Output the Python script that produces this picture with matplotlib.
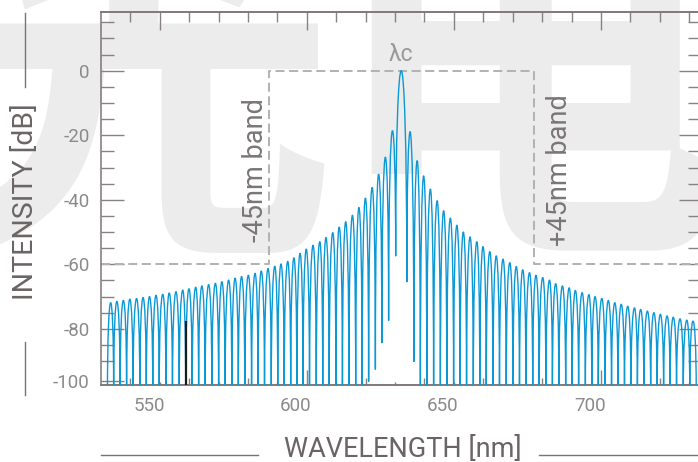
import matplotlib
matplotlib.use("Agg")
import matplotlib.pyplot as plt
from matplotlib.path import Path
from matplotlib.patches import PathPatch
from matplotlib.lines import Line2D
from matplotlib.ticker import FixedLocator, NullFormatter
import matplotlib.transforms as mtrans

plt.rcParams['font.family'] = ['Roboto', 'DejaVu Sans']
plt.rcParams['font.weight'] = 'normal'
plt.rcParams['lines.scale_dashes'] = False

# ---------------- data ----------------
# wavelengths (nm) of the lobe nulls, left to right
null_nm = [535.9, 538.0, 540.2, 542.4, 544.6, 546.9, 549.1, 551.3, 553.5, 555.8,
           558.0, 560.3, 562.5, 564.7, 566.9, 569.1, 571.4, 573.7, 575.9, 578.2,
           580.4, 582.6, 584.9, 587.1, 589.3, 591.6, 593.8, 596.0, 598.2, 600.3,
           602.4, 604.6, 606.9, 609.1, 611.3, 613.6, 615.8, 618.0, 620.3, 622.5,
           624.7, 627.0, 629.2, 631.5, 633.9, 637.7, 640.1, 642.3, 644.5, 646.8,
           649.1, 651.3, 653.6, 655.8, 658.0, 660.3, 662.5, 664.7, 667.0, 669.2,
           671.5, 673.8, 676.0, 678.2, 680.5, 682.7, 685.0, 687.2, 689.4, 691.7,
           693.9, 696.1, 698.4, 700.6, 702.8, 705.1, 707.3, 709.5, 711.7, 713.9,
           716.1, 718.3, 720.6, 722.8, 725.0, 727.2, 729.4, 731.7, 733.9, 736.1]
# depth of each null (dB); most fall below the plotted range
null_db = [-100] * 40 + [-96.3, -92.5, -84.3, -77.4, -57.4, -65.4, -90.1] + [-100] * 43
# lobe peaks
peak_nm = [537.0, 539.1, 541.3, 543.5, 545.8, 548.0, 550.2, 552.4, 554.7, 556.9,
           559.2, 561.5, 563.6, 565.9, 568.0, 570.3, 572.6, 574.8, 577.1, 579.3,
           581.5, 583.8, 586.1, 588.2, 590.5, 592.8, 594.9, 597.2, 599.3, 601.4,
           603.5, 605.8, 608.1, 610.2, 612.5, 614.7, 616.9, 619.2, 621.4, 623.6,
           625.9, 628.1, 630.4, 632.8, 635.8, 638.8, 641.2, 643.4, 645.7, 648.0,
           650.2, 652.5, 654.7, 656.9, 659.2, 661.5, 663.6, 665.9, 668.1, 670.4,
           672.7, 674.9, 677.1, 679.4, 681.6, 683.9, 686.2, 688.3, 690.6, 692.9,
           695.0, 697.3, 699.6, 701.7, 704.0, 706.2, 708.4, 710.6, 712.8, 715.1,
           717.2, 719.5, 721.7, 723.9, 726.2, 728.3, 730.6, 732.9, 735.0]
peak_db = [-71.9, -71.5, -71.2, -70.8, -70.6, -70.3, -70.0, -69.6, -69.3, -68.9,
           -68.5, -68.0, -67.6, -67.1, -66.7, -66.3, -65.9, -65.4, -64.9, -64.3,
           -63.8, -63.4, -62.8, -62.1, -61.3, -60.6, -59.9, -59.1, -58.0, -56.6,
           -55.3, -54.1, -53.0, -51.7, -50.2, -48.5, -46.8, -44.8, -42.4, -39.5,
           -36.2, -32.1, -26.8, -18.6, 0.0, -18.9, -27.9, -32.6, -36.7, -40.3,
           -43.4, -45.7, -47.9, -50.0, -51.5, -53.0, -54.5, -56.1, -57.4, -58.4,
           -59.5, -60.7, -61.7, -62.6, -63.4, -64.1, -64.9, -66.0, -66.7, -67.3,
           -68.1, -68.8, -69.4, -70.0, -70.6, -71.2, -71.9, -72.4, -73.0, -73.5,
           -74.0, -74.5, -75.0, -75.5, -76.0, -76.4, -76.9, -77.3, -77.6]

# band mask (dashed)
mask_nm = [533.7, 590.8, 590.8, 680.8, 680.8, 736.7]
mask_db = [-60, -60, 0, 0, -60, -60]

# black marker line
marker_nm = 562.5
marker_top_db = -77.7

# axes
x_limits = (533.7, 736.7)
y_limits = (-97.4, 18.1)
x_label_pos = [550, 600, 650, 700]
x_label_txt = ['550', '600', '650', '700']
x_top_major = [553.7, 603.7, 653.7, 703.7]
x_top_minor = [543.7, 563.7, 573.7, 583.7, 593.7, 613.7, 623.7, 633.7, 643.7,
               663.7, 673.7, 683.7, 693.7, 713.7, 723.7, 733.7]
x_bot_major = [603.7, 703.7]
x_bot_mid = [543.7, 563.7, 583.7, 623.7, 643.7, 663.7, 683.7, 723.7]
x_bot_small = [553.7, 573.7, 593.7, 613.7, 633.7, 653.7, 673.7, 693.7, 713.7, 733.7]
y_major = [0, -20, -40, -60, -80, -96.3]
y_major_txt = ['0', '-20', '-40', '-60', '-80', '-100']
y_minor = [15, 10, 5, -5, -10, -15, -25, -30, -35, -45, -50, -55, -65, -70, -75,
           -85, -90]
watermark_chars = ['光', '电']

# ---------------- styling ----------------
W, H = 698, 462
fig = plt.figure(figsize=(W / 100, H / 100), dpi=100)
fig.patch.set_facecolor('white')

spine_c = '#7d7575'
tick_c = '#888282'
lab_c = '#8a8a8a'
axlab_c = '#6b6464'
line_c = '#0b98d5'

# faint watermark behind the chart
for ch, xc in zip(watermark_chars, (135, 528)):
    fig.text(xc / W, 1 - 305 / H, ch, fontsize=290, color='#ececec',
             family=['Noto Sans CJK SC'], weight='bold', ha='center',
             va='bottom', zorder=-10)

ax = fig.add_axes([101 / W, 77 / H, 597 / W, 372.7 / H])
ax.patch.set_visible(False)
ax.set_xlim(*x_limits)
ax.set_ylim(*y_limits)

for s in ('left', 'bottom', 'top'):
    ax.spines[s].set_color(spine_c)
    ax.spines[s].set_linewidth(1.1)
ax.spines['right'].set_visible(False)

# spectrum as a chain of lobes (null -> peak -> null)
verts = [(null_nm[0], null_db[0])]
codes = [Path.MOVETO]
for i in range(len(peak_nm)):
    xl, yl = null_nm[i], null_db[i]
    xp, p = peak_nm[i], peak_db[i]
    xr, yr = null_nm[i + 1], null_db[i + 1]
    verts += [(xl, (yl + 2 * p) / 3), ((xl + xp) / 2, p), (xp, p),
              ((xp + xr) / 2, p), (xr, (yr + 2 * p) / 3), (xr, yr)]
    codes += [Path.CURVE4] * 6
spec = PathPatch(Path(verts, codes), fill=False, edgecolor=line_c, lw=1.0,
                 transform=ax.transData, zorder=3, joinstyle='round')
ax.add_patch(spec)

# dashed mask
ax.plot(mask_nm, mask_db, color='#b3b3b3', lw=1.45, ls=(0, (6.5, 3.3)),
        zorder=2, clip_on=True)

# black marker
ax.vlines(marker_nm, y_limits[0] - 3, marker_top_db, color='#1a1a1a', lw=1.6,
          zorder=4)

# y ticks left
ax.yaxis.set_major_locator(FixedLocator(y_major))
ax.set_yticklabels(y_major_txt)
ax.yaxis.set_minor_locator(FixedLocator(y_minor))
ax.tick_params(axis='y', which='major', direction='in', length=16.5, width=1.0,
               color=tick_c, labelsize=13.5, labelcolor=lab_c, pad=8.2,
               left=True, right=False)
ax.tick_params(axis='y', which='minor', direction='in', length=9.5, width=1.0,
               color=tick_c, left=True, right=False)

# x ticks bottom
ax.xaxis.set_major_locator(FixedLocator(x_bot_major))
ax.xaxis.set_minor_locator(FixedLocator(x_bot_mid))
ax.xaxis.set_major_formatter(NullFormatter())
ax.tick_params(axis='x', which='major', direction='in', length=11, width=1.0,
               color=tick_c, bottom=True, top=False)
ax.tick_params(axis='x', which='minor', direction='in', length=5, width=1.0,
               color=tick_c, bottom=True, top=False)

secb = ax.secondary_xaxis('bottom')
secb.xaxis.set_major_locator(FixedLocator(x_bot_small))
secb.xaxis.set_major_formatter(NullFormatter())
secb.tick_params(axis='x', which='major', direction='in', length=2.3, width=1.0,
                 color=tick_c)
secb.spines['bottom'].set_color(spine_c)
secb.spines['bottom'].set_linewidth(1.1)

sect = ax.secondary_xaxis('top')
sect.xaxis.set_major_locator(FixedLocator(x_top_major))
sect.xaxis.set_minor_locator(FixedLocator(x_top_minor))
sect.xaxis.set_major_formatter(NullFormatter())
sect.tick_params(axis='x', which='major', direction='in', length=13, width=1.0,
                 color=tick_c)
sect.tick_params(axis='x', which='minor', direction='in', length=7.2, width=1.0,
                 color=tick_c)
sect.spines['top'].set_color(spine_c)
sect.spines['top'].set_linewidth(1.1)

secr = ax.secondary_yaxis('right')
secr.yaxis.set_major_locator(FixedLocator(y_major[:-1]))
secr.yaxis.set_minor_locator(FixedLocator(y_minor))
secr.yaxis.set_major_formatter(NullFormatter())
secr.tick_params(axis='y', which='major', direction='in', length=14, width=1.0,
                 color=tick_c)
secr.tick_params(axis='y', which='minor', direction='in', length=7.2, width=1.0,
                 color=tick_c)
secr.spines['right'].set_visible(False)

# x tick labels
xtr = mtrans.blended_transform_factory(ax.transData, ax.transAxes)
for xv, t in zip(x_label_pos, x_label_txt):
    ax.text(xv, -0.033, t, transform=xtr, ha='center', va='top', fontsize=13.5,
            color=lab_c)

# annotations
ax.text(588.9, -30.7, '-45nm band', rotation=90, rotation_mode='anchor',
        ha='center', va='baseline', fontsize=19.5, color='#7b7676')
ax.text(692.1, -30.7, '+45nm band', rotation=90, rotation_mode='anchor',
        ha='center', va='baseline', fontsize=19.5, color='#7b7676')
ax.text(635.8, 2.9, 'λc', ha='center', va='baseline', fontsize=16.5,
        color='#999999')

# axis titles with decorative rules
fig.text(403 / W, 1 - 457 / H, 'WAVELENGTH [nm]', ha='center', va='baseline',
         fontsize=19.5, color=axlab_c)
fig.text(33.3 / W, 1 - 202 / H, 'INTENSITY [dB]', rotation=90,
         rotation_mode='anchor', ha='center', va='baseline', fontsize=20.5,
         color=axlab_c)
rule_c = '#7a7474'
fig.add_artist(Line2D([101 / W, 258 / W], [1 - 455 / H] * 2, color=rule_c, lw=1.0))
fig.add_artist(Line2D([539 / W, 1.0], [1 - 455 / H] * 2, color=rule_c, lw=1.0))
fig.add_artist(Line2D([25 / W] * 2, [1 - 13 / H, 1 - 87 / H], color=rule_c, lw=1.0))
fig.add_artist(Line2D([25 / W] * 2, [1 - 342 / H, 1 - 395 / H], color=rule_c, lw=1.0))

fig.savefig('out.png', dpi=100, facecolor='white')
